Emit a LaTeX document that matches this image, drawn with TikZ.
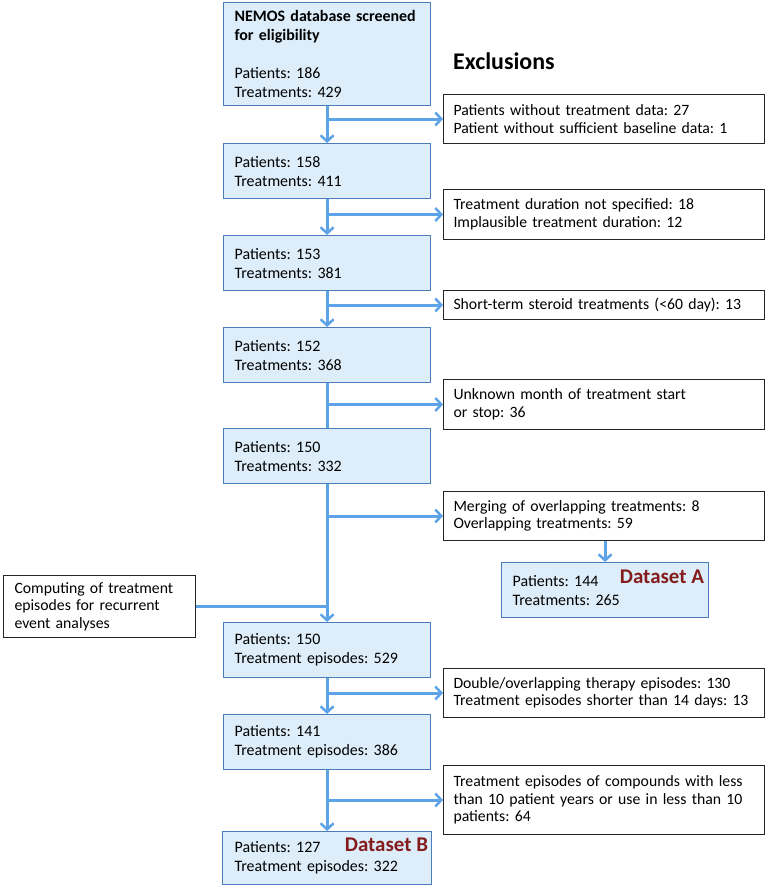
\documentclass[tikz,border=0pt]{standalone}
\usepackage{fontspec}
\setmainfont{Carlito}
\usetikzlibrary{arrows.meta}
\definecolor{boxfill}{HTML}{DDEEFA}
\definecolor{boxline}{HTML}{4A7EBB}
\definecolor{flowblue}{HTML}{5DA3E8}
\definecolor{dsred}{HTML}{841C1C}
\frenchspacing

\begin{document}
\begin{tikzpicture}[x=1bp, y=-1bp,
	mainbox/.style={draw=boxline, fill=boxfill, line width=1.2bp, anchor=north west, minimum width=207bp, minimum height=55bp, text width=185bp, inner xsep=11bp, align=left, font=\fontsize{16}{19}\selectfont},
	exclbox/.style={draw=black!85, fill=white, line width=1bp, anchor=north west, minimum width=321bp, text width=301bp, inner xsep=10bp, align=left, font=\fontsize{15.8}{17.5}\selectfont},
	dslabel/.style={anchor=east, inner sep=0pt, text=dsred, font=\fontsize{21}{25}\selectfont\bfseries},
	flow/.style={draw=flowblue, line width=3bp, -{Straight Barb[length=6bp,width=13bp,line width=2.5bp]}},
	flowline/.style={draw=flowblue, line width=3bp}]
	\useasboundingbox (0,0) rectangle (767,891);
	% main chain
	\node[mainbox, minimum height=103bp] (b1) at (223,2) {\textbf{NEMOS database screened}\\\textbf{for eligibility}\\[19bp]Patients: 186\\Treatments: 429};
	\node[mainbox] (b2) at (223,143) {Patients: 158\\Treatments: 411};
	\node[mainbox] (b3) at (223,235) {Patients: 153\\Treatments: 381};
	\node[mainbox] (b4) at (223,327) {Patients: 152\\Treatments: 368};
	\node[mainbox] (b5) at (223,428) {Patients: 150\\Treatments: 332};
	\node[mainbox] (b6) at (223,622) {Patients: 150\\Treatment episodes: 529};
	\node[mainbox] (b7) at (223,714) {Patients: 141\\Treatment episodes: 386};
	\node[mainbox, minimum width=209bp, minimum height=53bp] (b8) at (222,831) {Patients: 127\\Treatment episodes: 322};
	\node[mainbox] (dsa) at (501,562) {Patients: 144\\Treatments: 265};
	\node[dslabel] (labelA) at ([xshift=-5bp,yshift=-15bp]dsa.north east) {Dataset A};
	\node[dslabel] (labelB) at ([xshift=-4bp,yshift=-14bp]b8.north east) {Dataset B};
	% exclusions
	\node[anchor=base west, inner sep=0pt, font=\fontsize{24}{28}\selectfont\bfseries] (excl) at (453,69) {Exclusions};
	\node[exclbox, minimum height=49bp] (e1) at (443,94) {Patients without treatment data: 27\\Patient without sufficient baseline data: 1};
	\node[exclbox, minimum height=50bp] (e2) at (443,189) {Treatment duration not specified: 18\\Implausible treatment duration: 12};
	\node[exclbox, minimum height=29bp] (e3) at (443,290) {Short-term steroid treatments (<60 day): 13};
	\node[exclbox, minimum height=50bp] (e4) at (443,379) {Unknown month of treatment start\\or stop: 36};
	\node[exclbox, minimum height=49bp] (e5) at (443,491) {Merging of overlapping treatments: 8\\Overlapping treatments: 59};
	\node[exclbox, minimum height=49bp] (e6) at (443,668) {Double/overlapping therapy episodes: 130\\Treatment episodes shorter than 14 days: 13};
	\node[exclbox, minimum height=69bp] (e7) at (443,765) {Treatment episodes of compounds with less\\than 10 patient years or use in less than 10\\patients: 64};
	\node[exclbox, minimum width=192bp, text width=170bp, inner xsep=11bp, minimum height=62bp] (comp) at (3,575) {Computing of treatment\\episodes for recurrent\\event analyses};
	% connectors
	\foreach \a/\b in {b1/b2,b2/b3,b3/b4,b6/b7,b7/b8}
		\draw[flow] (\a.south) -- (\a.south |- \b.north);
	\draw[flowline] (b4.south) -- (b5.north);
	\draw[flow] (b5.south) -- (b6.north);
	\foreach \a/\e in {b1/e1,b2/e2,b3/e3,b4/e4,b5/e5,b6/e6,b7/e7}
		\draw[flow] (\a.south |- \e.west) -- (\e.west);
	\draw[flowline] (comp.east) -- (comp.east -| b5.south);
	\draw[flow] (dsa.north |- e5.south) -- (dsa.north);
\end{tikzpicture}
\end{document}
